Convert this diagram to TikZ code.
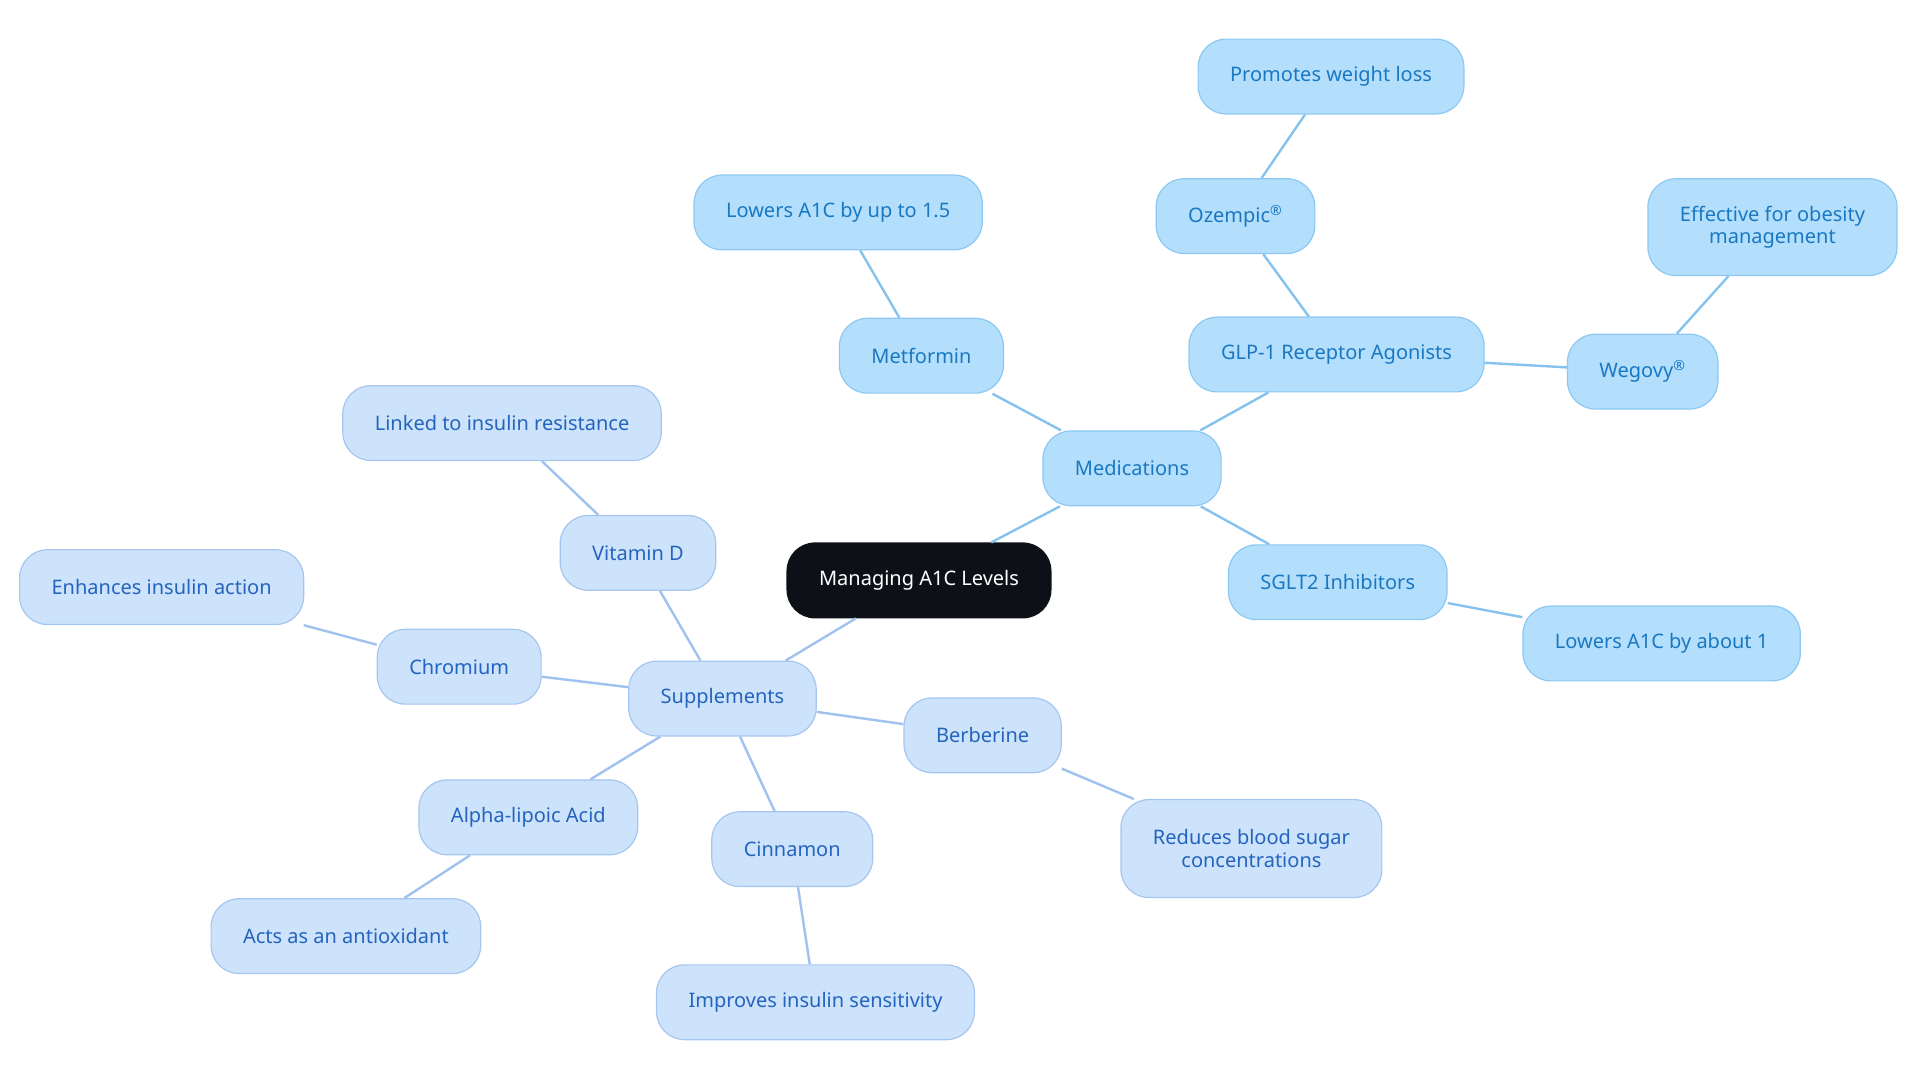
\documentclass[tikz,border=0pt]{standalone}
\usepackage{fontspec}
\setmainfont{Noto Sans}
\usepackage{tikz}
\usepackage{color}

\definecolor{rootfill}{HTML}{0D1117}
\definecolor{medfill}{HTML}{B3DFFC}
\definecolor{meddraw}{HTML}{8DC8F2}
\definecolor{medtext}{HTML}{1A78C2}
\definecolor{medline}{HTML}{86C2EE}
\definecolor{supfill}{HTML}{CDE3FB}
\definecolor{supdraw}{HTML}{A5C6EF}
\definecolor{suptext}{HTML}{2464BE}
\definecolor{supline}{HTML}{A0C2EE}

\begin{document}
\begin{tikzpicture}
	[x=0.6123pt, y=-0.6123pt,
	box_style/.style={rectangle, rounded corners=14pt, line width=0.6pt, minimum height=37.4pt,
		inner xsep=16pt, align=center, font=\fontsize{10}{11.3}\selectfont},
	root_style/.style={box_style, fill=rootfill, draw=rootfill, text=white},
	med_style/.style={box_style, fill=medfill, draw=meddraw, text=medtext},
	sup_style/.style={box_style, fill=supfill, draw=supdraw, text=suptext},
	med_edge/.style={draw=medline, line width=1.2pt},
	sup_edge/.style={draw=supline, line width=1.2pt}]
	\useasboundingbox (0,0) rectangle (1568,884.5);

	\node[root_style] (root) at (750.5,474) {Managing A1C Levels};

	% medications branch
	\node[med_style] (med) at (924.5,382.5) {Medications};
	\node[med_style] (metf) at (752.5,290.5) {Metformin};
	\node[med_style] (metfa) at (684.5,173.5) {Lowers A1C by up to 1.5};
	\node[med_style] (glp) at (1091.5,289.5) {GLP-1 Receptor Agonists};
	\node[med_style] (oze) at (1009,176.5) {Ozempic\textsuperscript{®}};
	\node[med_style] (ozea) at (1087,62.5) {Promotes weight loss};
	\node[med_style] (weg) at (1341.5,303.5) {Wegovy\textsuperscript{®}};
	\node[med_style, minimum height=48.4pt] (wega) at (1447.5,185.5) {Effective for obesity\\management};
	\node[med_style] (sglt) at (1092.5,475.5) {SGLT2 Inhibitors};
	\node[med_style] (sglta) at (1357,525.5) {Lowers A1C by about 1};

	% supplements branch
	\node[sup_style] (sup) at (590,570.5) {Supplements};
	\node[sup_style] (vitd) at (521,451.5) {Vitamin D};
	\node[sup_style] (vitda) at (410,345.5) {Linked to insulin resistance};
	\node[sup_style] (chro) at (375,544.5) {Chromium};
	\node[sup_style] (chroa) at (132,479.5) {Enhances insulin action};
	\node[sup_style] (alpha) at (431.5,667.5) {Alpha-lipoic Acid};
	\node[sup_style] (alphaa) at (282.5,764.5) {Acts as an antioxidant};
	\node[sup_style] (cinn) at (647,693.5) {Cinnamon};
	\node[sup_style] (cinna) at (666,818.5) {Improves insulin sensitivity};
	\node[sup_style] (berb) at (802.5,600.5) {Berberine};
	\node[sup_style, minimum height=49pt] (berba) at (1022,693) {Reduces blood sugar\\concentrations};

	\draw[med_edge] (root) edge (med);
	\draw[med_edge] (med) edge (metf);
	\draw[med_edge] (metf) edge (metfa);
	\draw[med_edge] (med) edge (glp);
	\draw[med_edge] (glp) edge (oze);
	\draw[med_edge] (oze) edge (ozea);
	\draw[med_edge] (glp) edge (weg);
	\draw[med_edge] (weg) edge (wega);
	\draw[med_edge] (med) edge (sglt);
	\draw[med_edge] (sglt) edge (sglta);

	\draw[sup_edge] (root) edge (sup);
	\draw[sup_edge] (sup) edge (vitd);
	\draw[sup_edge] (vitd) edge (vitda);
	\draw[sup_edge] (sup) edge (chro);
	\draw[sup_edge] (chro) edge (chroa);
	\draw[sup_edge] (sup) edge (alpha);
	\draw[sup_edge] (alpha) edge (alphaa);
	\draw[sup_edge] (sup) edge (cinn);
	\draw[sup_edge] (cinn) edge (cinna);
	\draw[sup_edge] (sup) edge (berb);
	\draw[sup_edge] (berb) edge (berba);
\end{tikzpicture}
\end{document}
